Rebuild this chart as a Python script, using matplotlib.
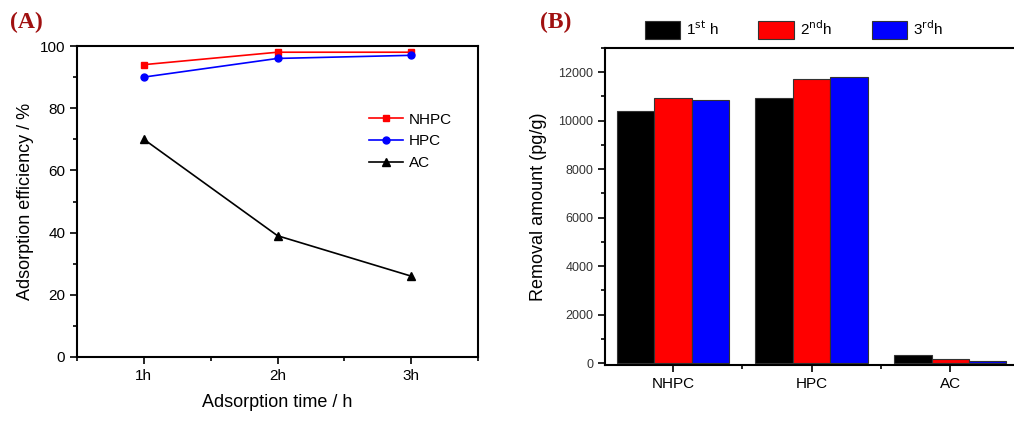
import numpy as np
import matplotlib.pyplot as plt
from matplotlib.ticker import MultipleLocator

plt.rcParams["font.family"] = ["Liberation Sans", "DejaVu Sans"]

# panel A data
times = ["1h", "2h", "3h"]
nhpc_eff = [94, 98, 98]
hpc_eff = [90, 96, 97]
ac_eff = [70, 39, 26]

# panel B data
materials = ["NHPC", "HPC", "AC"]
removal_1st = [10420, 10950, 350]
removal_2nd = [10930, 11720, 160]
removal_3rd = [10860, 11790, 90]
hour_labels = [r"1$^{\rm st}$ h", r"2$^{\rm nd}$h", r"3$^{\rm rd}$h"]
bar_colors = ["black", "red", "blue"]

fig = plt.figure(figsize=(10.14, 4.26), dpi=100)

# ---- (A) ----
ax1 = fig.add_axes([77 / 1014, 1 - 357 / 426, 401 / 1014, 311 / 426])
x = np.arange(1, len(times) + 1)
ax1.plot(x, nhpc_eff, color="red", marker="s", markersize=5, lw=1.2, label="NHPC")
ax1.plot(x, hpc_eff, color="blue", marker="o", markersize=5, lw=1.2, label="HPC")
ax1.plot(x, ac_eff, color="black", marker="^", markersize=6, lw=1.2, label="AC")
ax1.set_xlim(0.5, 3.5)
ax1.set_ylim(0, 100)
ax1.set_xticks(x)
ax1.set_xticklabels(times)
ax1.xaxis.set_minor_locator(MultipleLocator(0.5))
ax1.yaxis.set_major_locator(MultipleLocator(20))
ax1.yaxis.set_minor_locator(MultipleLocator(10))
ax1.tick_params(which="major", length=5, width=1.2, labelsize=11)
ax1.tick_params(which="minor", length=3, width=1.2)
for s in ax1.spines.values():
    s.set_linewidth(1.5)
ax1.set_xlabel("Adsorption time / h", fontsize=13, labelpad=8)
ax1.set_ylabel("Adsorption efficiency / %", fontsize=13)
ax1.legend(loc="upper left", bbox_to_anchor=(0.71, 0.81), frameon=False,
           fontsize=11, handlelength=2.2, labelspacing=0.5, borderpad=0,
           handletextpad=0.4)
fig.text(10 / 1014, 1 - 22 / 426, "(A)", fontsize=17, fontweight="bold",
         color="#a01010", family="Liberation Serif", va="center")

# ---- (B) ----
ax2 = fig.add_axes([605 / 1014, 1 - 365 / 426, 409 / 1014, 317 / 426])
w = 0.27
xb = np.arange(1, len(materials) + 1)
for i, (vals, c, lab) in enumerate(zip([removal_1st, removal_2nd, removal_3rd],
                                       bar_colors, hour_labels)):
    ax2.bar(xb + (i - 1) * w, vals, width=w, color=c, edgecolor="#333333",
            linewidth=0.8, label=lab)
ax2.set_xlim(0.51, 3.46)
ax2.set_ylim(-80, 13000)
ax2.set_xticks(xb)
ax2.set_xticklabels(materials)
ax2.xaxis.set_minor_locator(MultipleLocator(0.5))
ax2.yaxis.set_major_locator(MultipleLocator(2000))
ax2.yaxis.set_minor_locator(MultipleLocator(1000))
ax2.tick_params(axis="y", which="major", length=5, width=1.2, labelsize=9,
                labelcolor="#333333")
ax2.tick_params(axis="x", which="major", length=5, width=1.2, labelsize=11)
ax2.tick_params(which="minor", length=3, width=1.2)
for s in ax2.spines.values():
    s.set_linewidth(1.5)
ax2.spines["right"].set_visible(False)
ax2.set_ylabel("Removal amount (pg/g)", fontsize=13, labelpad=8)
ax2.legend(loc="lower left", bbox_to_anchor=(0.075, 1.0), ncol=3, frameon=False,
           fontsize=11, handlelength=2.3, handleheight=1.4, columnspacing=2.6,
           handletextpad=0.4, borderpad=0.1)
fig.text(540 / 1014, 1 - 22 / 426, "(B)", fontsize=17, fontweight="bold",
         color="#a01010", family="Liberation Serif", va="center")

fig.savefig("out.png", dpi=100)
